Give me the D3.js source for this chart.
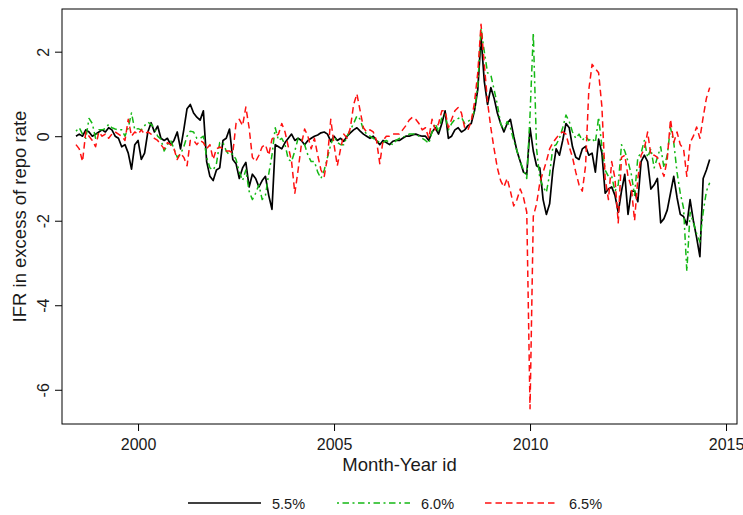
<!DOCTYPE html>
<html>
<head>
<meta charset="utf-8">
<script src="https://cdn.jsdelivr.net/npm/d3@7"></script>
<style>
  body { margin: 0; background: #fff; }
  svg { display: block; font-family: "Liberation Sans", Arial, sans-serif; }
</style>
</head>
<body>
<svg id="chart" width="743" height="515"></svg>
<script>
// monthly series, first month = June 1998
const startYear = 1998, startMonth = 6;

const ifr55 = [
  0.0, 0.05, 0.0, 0.15, 0.1, 0.0, 0.05, 0.1, 0.15, 0.1,
  0.2, 0.15, 0.0, -0.05, -0.25, -0.2, -0.4, -0.78, -0.2, -0.1,
  -0.55, -0.4, 0.1, 0.32, 0.1, 0.24, -0.05, -0.1, -0.05, -0.2,
  -0.1, 0.1, -0.3, 0.15, 0.65, 0.75, 0.55, 0.45, 0.38, 0.6,
  -0.6, -0.95, -1.05, -0.8, -0.75, -0.1, -0.05, 0.17, -0.55, -0.65,
  -1.0, -0.75, -0.62, -1.2, -0.9, -1.0, -1.2, -1.05, -0.95, -1.4,
  -1.73, -0.2, -0.25, -0.3, -0.15, -0.05, 0.05, -0.1, -0.05, -0.1,
  -0.2, -0.1, -0.05, 0.0, 0.03, 0.08, 0.1, 0.05, -0.12, 0.0,
  -0.1, -0.05, -0.12, 0.0, 0.08, 0.15, 0.2, 0.12, 0.05, 0.0,
  -0.05, 0.0, -0.1, -0.2, -0.1, -0.15, -0.2, -0.12, -0.1, -0.1,
  -0.05, 0.0, 0.0, 0.03, 0.05, 0.02, 0.0, 0.0, -0.1, 0.1,
  0.2, 0.05, 0.3, 0.6, -0.05, 0.0, 0.15, 0.2, 0.1, 0.15,
  0.25, 0.3, 0.6, 1.1, 2.35, 1.3, 0.75, 1.15, 0.9, 0.55,
  0.3, 0.1, 0.3, 0.4, 0.0, -0.35, -0.6, -0.85, -0.9, 0.2,
  -0.35, -0.7, -0.75, -1.5, -1.85, -1.6, -0.8, -0.3, -0.45, -0.1,
  0.3, 0.2, -0.25, -0.5, -0.55, -0.3, -0.24, -0.45, -0.4, -0.85,
  -0.07, -0.4, -1.35, -1.25, -1.2, -1.4, -1.8, -1.3, -0.9, -1.85,
  -1.3, -1.3, -1.55, -0.6, -0.45, -0.6, -1.25, -1.15, -1.0, -2.05,
  -1.95, -1.75, -1.35, -0.95, -1.45, -1.85, -1.9, -2.1, -1.5, -2.0,
  -2.4, -2.85, -1.0, -0.8, -0.55
];

const ifr60 = [
  0.12, 0.2, 0.05, -0.05, 0.42, 0.3, -0.05, 0.15, 0.15, 0.18,
  0.28, 0.2, 0.17, 0.15, 0.15, 0.0, 0.2, 0.55, 0.15, 0.18,
  0.15, 0.25, 0.33, 0.28, 0.2, 0.0, -0.07, -0.35, -0.2, -0.1,
  -0.3, -0.5, -0.42, -0.25, 0.0, 0.12, 0.1, -0.05, -0.05, 0.0,
  -0.5, -0.75, -0.8, -0.65, -0.15, -0.15, -0.35, -0.45, -0.42, -0.55,
  -0.85, -1.05, -0.8, -1.3, -1.5, -1.35, -1.15, -1.5, -1.4, -0.9,
  -0.45, 0.2, -0.1, -0.05, -0.2, -0.55, -0.6, -0.35, -0.05, -0.05,
  -0.2, -0.45, -0.6, -0.6, -0.85, -1.0, -0.8, -0.5, -0.2, 0.0,
  -0.15, -0.2, -0.2, 0.0, 0.15, 0.3, 0.48, 0.4, 0.15, 0.05,
  0.0, -0.05, -0.1, -0.15, -0.15, -0.1, -0.15, -0.2, -0.1, -0.05,
  -0.02, 0.0, 0.05, 0.05, 0.05, 0.0, -0.05, -0.1, -0.17, 0.1,
  0.3, 0.1, 0.45, 0.5, 0.15, 0.3, 0.4, 0.42, 0.45, 0.3,
  0.35, 0.4, 0.6, 1.2, 2.55, 2.0, 1.5, 1.45, 1.1, 0.75,
  0.3, 0.15, 0.35, 0.2, -0.1, -0.35, -0.6, -0.8, -1.0, 0.5,
  2.45, -0.3, -1.0, -1.2, -1.33, -0.9, -0.25, -0.2, -0.05, 0.2,
  0.5, 0.35, 0.1, -0.05, 0.05, -0.1, 0.0, -0.1, -0.05, -0.15,
  0.45, -0.25, -0.8, -0.95, -0.95, -1.3, -1.15, -0.2, -0.35, -0.6,
  -0.9, -1.4, -0.5, -0.4, -0.1, -0.5, -0.3, -0.75, -0.5, -0.25,
  -0.75, -0.45, 0.2, -0.15, -0.85, -1.35, -1.7, -3.2, -1.8, -2.05,
  -2.3, -2.5, -1.8, -1.3, -1.1
];

const ifr65 = [
  -0.2, -0.3, -0.6, 0.1, 0.0, -0.1, -0.25, 0.1, 0.0, 0.05,
  -0.05, 0.05, 0.1, 0.05, 0.0, -0.1, 0.4, 0.0, 0.1, 0.05,
  0.15, 0.05, 0.1, 0.05, -0.05, -0.1, -0.2, -0.3, -0.15, -0.2,
  -0.3, -0.55, -0.4, -0.5, -0.7, -0.1, -0.1, -0.2, -0.1, -0.15,
  -0.3, -0.2, -0.55, -0.3, -0.25, -0.3, -0.35, -0.35, -0.4, 0.3,
  0.4, 0.25, 0.69, 0.2, -0.5, -0.6, -0.45, -0.25, -0.2, -0.45,
  -0.07, 0.0, 0.05, 0.3, 0.1, -0.25, -0.6, -1.35, -0.8, -0.2,
  0.17, 0.0, -0.3, -0.05, -0.45, -0.8, -0.95, -0.5, 0.4, -0.2,
  -0.7, -0.3, 0.05, -0.05, 0.2, 0.75, 1.0, 0.6, 0.2, 0.1,
  0.15, 0.1, -0.1, -0.65, -0.1, 0.0, 0.0, 0.05, 0.05, 0.05,
  0.15, 0.25, 0.38, 0.45, 0.4, 0.3, 0.15, 0.2, -0.05, 0.4,
  0.15, 0.3, 0.6, 0.6, 0.2, 0.4, 0.6, 0.68, 0.55, 0.2,
  0.15, 0.35, 0.8, 1.5, 2.65, 1.7, 0.8, 0.2, -0.3, -0.75,
  -1.05, -1.2, -1.0, -1.3, -1.65, -1.5, -1.25, -1.45, -1.8, -6.45,
  -1.9, -1.6, -1.1, -0.85, -0.6, -0.3, -0.15, -0.05, 0.05, 0.1,
  0.05, -0.25, -0.5, -0.85, -1.15, -1.3, -0.7, 1.1, 1.7, 1.6,
  1.5, 0.7, -1.0, -1.5, -0.6, -1.0, -2.05, -0.5, -0.45, -0.95,
  -1.2, -2.0, -1.0, -0.45, -0.3, 0.1, -0.45, -0.45, -0.5, -0.75,
  -0.95, -0.55, 0.4, -0.15, 0.1, -0.2, -0.3, -0.95, -0.15, 0.0,
  0.22, -0.05, 0.45, 0.9, 1.15
];

const xTicks = [2000, 2005, 2010, 2015];
const yTicks = [2, 0, -2, -4, -6];

const series = [
  { label: "5.5%", values: ifr55, color: "#000000", dash: null, width: 1.7 },
  { label: "6.0%", values: ifr60, color: "#14b814", dash: "2,3.5,6.5,3.5", width: 1.5 },
  { label: "6.5%", values: ifr65, color: "#ff1010", dash: "6.5,4", width: 1.5 }
];

const svg = d3.select("#chart");
const W = 743, H = 515;
const plot = { left: 62, right: 737, top: 9, bottom: 424 };

const x = d3.scaleLinear()
  .domain([1998.06, 2015.28])
  .range([plot.left, plot.right]);
const y = d3.scaleLinear()
  .domain([-6.81, 3.01])
  .range([plot.bottom, plot.top]);

const dateOf = i => startYear + (startMonth - 1 + i) / 12;

// lines
const line = d3.line()
  .x((d, i) => x(dateOf(i)))
  .y(d => y(d));

series.forEach(s => {
  svg.append("path")
    .datum(s.values)
    .attr("d", line)
    .attr("fill", "none")
    .attr("stroke", s.color)
    .attr("stroke-width", s.width)
    .attr("stroke-dasharray", s.dash)
    .attr("stroke-linejoin", "round");
});

// frame
svg.append("rect")
  .attr("x", plot.left).attr("y", plot.top)
  .attr("width", plot.right - plot.left)
  .attr("height", plot.bottom - plot.top)
  .attr("fill", "none").attr("stroke", "#000").attr("stroke-width", 1);

// x axis
const xAxis = svg.append("g")
  .attr("transform", `translate(0,${plot.bottom})`)
  .call(d3.axisBottom(x).tickValues(xTicks).tickFormat(d3.format("d")).tickSize(7).tickPadding(8));
xAxis.select(".domain").remove();
xAxis.selectAll("line").attr("stroke", "#000");
xAxis.selectAll("text").attr("font-size", 16).attr("fill", "#1a1a1a")
  .attr("font-family", "'Liberation Sans', Arial, sans-serif");

// y axis, labels parallel to the axis
const yAxis = svg.append("g")
  .attr("transform", `translate(${plot.left},0)`)
  .call(d3.axisLeft(y).tickValues(yTicks).tickFormat(d => d).tickSize(7));
yAxis.select(".domain").remove();
yAxis.selectAll("line").attr("stroke", "#000");
yAxis.selectAll("text")
  .attr("x", null).attr("dy", null)
  .attr("transform", "translate(-13,0) rotate(-90)")
  .attr("text-anchor", "middle")
  .attr("font-size", 16).attr("fill", "#1a1a1a")
  .attr("font-family", "'Liberation Sans', Arial, sans-serif");

// axis titles
svg.append("text")
  .attr("x", (plot.left + plot.right) / 2).attr("y", 471)
  .attr("text-anchor", "middle").attr("font-size", 18.5).attr("fill", "#1a1a1a")
  .text("Month-Year id");
svg.append("text")
  .attr("transform", `translate(26,${(plot.top + plot.bottom) / 2}) rotate(-90)`)
  .attr("text-anchor", "middle").attr("font-size", 18.5).attr("fill", "#1a1a1a")
  .text("IFR in excess of repo rate");

// legend
const legendX = [188, 337, 485];
series.forEach((s, k) => {
  const g = svg.append("g").attr("transform", `translate(${legendX[k]},503)`);
  g.append("line")
    .attr("x1", 0).attr("x2", 73).attr("y1", 0).attr("y2", 0)
    .attr("stroke", s.color).attr("stroke-width", s.width)
    .attr("stroke-dasharray", s.dash);
  g.append("text")
    .attr("x", 84).attr("y", 6)
    .attr("font-size", 14.5).attr("fill", "#1a1a1a")
    .text(s.label);
});
</script>
</body>
</html>
